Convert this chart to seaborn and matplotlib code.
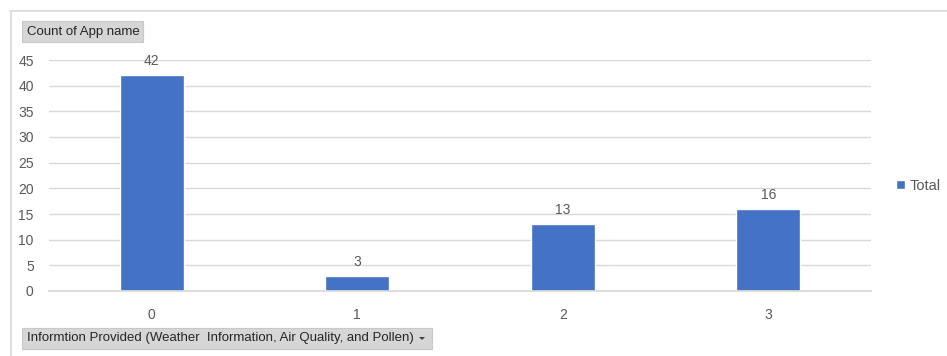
import matplotlib
matplotlib.use("Agg")
import matplotlib.pyplot as plt
from matplotlib.patches import Rectangle, Polygon
from matplotlib.lines import Line2D
import seaborn as sns
import pandas as pd

categories = ["0", "1", "2", "3"]
counts = [42, 3, 13, 16]
y_ticks = [0, 5, 10, 15, 20, 25, 30, 35, 40, 45]
series_name = "Total"
value_title = "Count of App name"
axis_title = "Informtion Provided (Weather  Information, Air Quality, and Pollen)"

sns.set_theme(style="white")
plt.rcParams["font.family"] = ["Liberation Sans", "DejaVu Sans"]

BAR = "#4472C4"
TXT = "#595959"
GRID = "#D9D9D9"

df = pd.DataFrame({"category": categories, "count": counts})

W, H = 947, 356
fig = plt.figure(figsize=(W / 100, H / 100), dpi=100)
fig.patch.set_facecolor("white")

# chart frame: only its top and left edges fall inside the figure
fig.add_artist(Line2D([10 / W, 1.0], [1 - 10.5 / H, 1 - 10.5 / H],
                      transform=fig.transFigure, color="#D9D9D9", linewidth=1.2))
fig.add_artist(Line2D([10.5 / W, 10.5 / W], [0.0, 1 - 10.5 / H],
                      transform=fig.transFigure, color="#D9D9D9", linewidth=1.2))

ax = fig.add_axes([49 / W, (H - 291) / H, (871 - 49) / W, (291 - 60) / H])
sns.barplot(data=df, x="category", y="count", color=BAR, width=0.31,
            saturation=1, ax=ax, label=series_name)
ax.set_ylim(0, 45)
ax.set_yticks(y_ticks)
ax.set_xlim(-0.5, len(categories) - 0.5)
ax.yaxis.grid(True, color=GRID, linewidth=1)
ax.set_axisbelow(True)
for s in ax.spines.values():
    s.set_visible(False)
ax.spines["bottom"].set_visible(True)
ax.spines["bottom"].set_color(GRID)
ax.tick_params(axis="both", length=0, labelsize=10, colors=TXT)
ax.tick_params(axis="y", pad=11)
ax.tick_params(axis="x", pad=12)
ax.set_xlabel("")
ax.set_ylabel("")

for cont in ax.containers:
    ax.bar_label(cont, labels=[str(v) for v in counts], padding=5,
                 fontsize=10, color=TXT)

# legend at right
leg = ax.legend(loc="center left", bbox_to_anchor=(1.018, 0.455), frameon=False,
                fontsize=10.5, handlelength=0.6, handleheight=0.6,
                handletextpad=0.3, labelcolor=TXT, borderaxespad=0.3)

# field buttons
def field_button(x0, y0, w, h, text, arrow=False):
    fig.add_artist(Rectangle((x0 / W, 1 - (y0 + h) / H), w / W, h / H,
                             transform=fig.transFigure, facecolor="#D6D6D6",
                             edgecolor="#C8C8C8", linewidth=0.8))
    fig.text((x0 + 5) / W, 1 - (y0 + h / 2) / H, text, fontsize=9.5,
             color="#262626", va="center", ha="left")
    if arrow:
        cx, cy = x0 + w - 10, y0 + h / 2
        fig.add_artist(Polygon([((cx - 3) / W, 1 - (cy - 1.5) / H),
                                ((cx + 3) / W, 1 - (cy - 1.5) / H),
                                (cx / W, 1 - (cy + 1.5) / H)],
                               closed=True, transform=fig.transFigure,
                               facecolor="#404040", edgecolor="none"))

field_button(22, 21, 121, 21, value_title)
field_button(22, 328, 410, 21, axis_title, arrow=True)

fig.savefig("out.png", dpi=100)
